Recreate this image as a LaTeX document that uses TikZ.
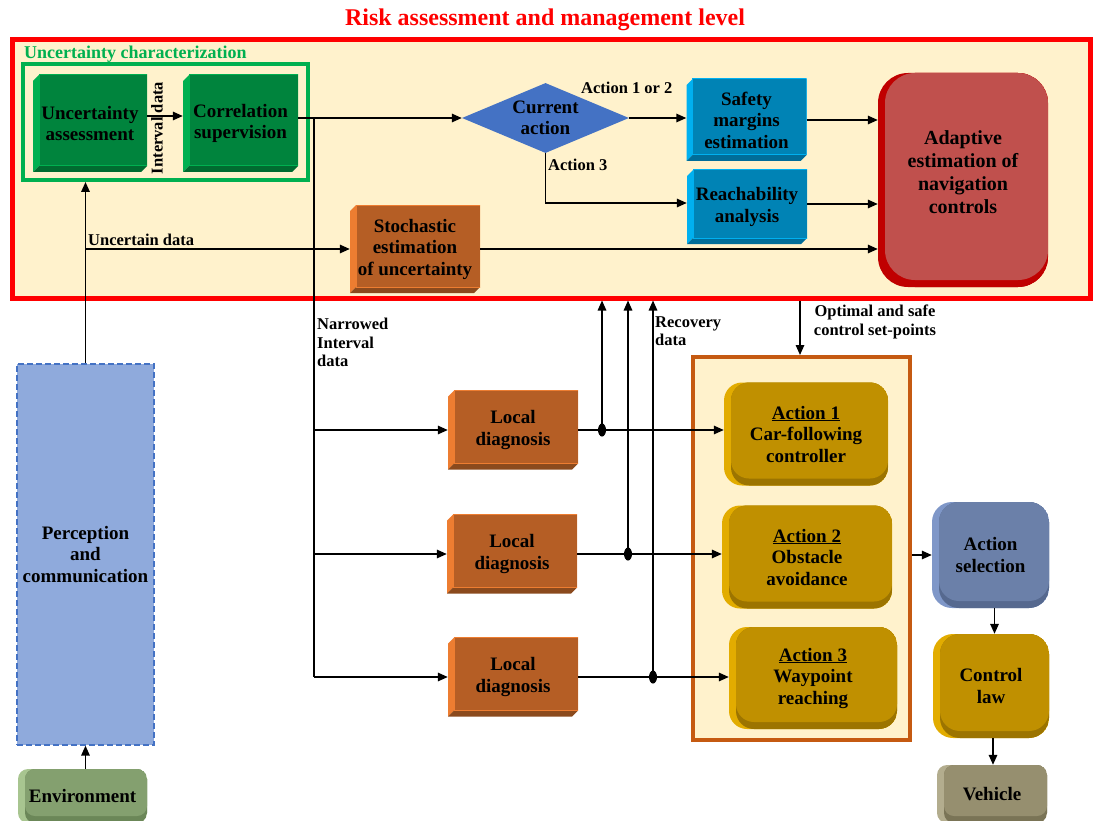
\documentclass[tikz,border=0pt]{standalone}
\usepackage{fontspec}
\setmainfont{Liberation Serif}
\usetikzlibrary{arrows.meta,shapes.geometric,calc}
\definecolor{cream}{HTML}{FFF2CC}
\definecolor{ucgreen}{HTML}{00B050}
\definecolor{gfront}{HTML}{00843D}
\definecolor{glight}{HTML}{00B050}
\definecolor{gdark}{HTML}{006B30}
\definecolor{dblue}{HTML}{4472C4}
\definecolor{bfront}{HTML}{0083B5}
\definecolor{blight}{HTML}{00B0F0}
\definecolor{bdark}{HTML}{006D99}
\definecolor{rfront}{HTML}{C0504D}
\definecolor{rdark}{HTML}{C00000}
\definecolor{ofront}{HTML}{B55E25}
\definecolor{olight}{HTML}{ED7D31}
\definecolor{odark}{HTML}{8B4A1D}
\definecolor{pfill}{HTML}{8FAADC}
\definecolor{pblue}{HTML}{4472C4}
\definecolor{efront}{HTML}{84A06F}
\definecolor{elight}{HTML}{A8C590}
\definecolor{edark}{HTML}{6B8758}
\definecolor{oframe}{HTML}{C55A11}
\definecolor{afront}{HTML}{C09000}
\definecolor{alight}{HTML}{E2AC00}
\definecolor{adark}{HTML}{9C7400}
\definecolor{sfront}{HTML}{6B80A9}
\definecolor{slight}{HTML}{7F97C8}
\definecolor{sdark}{HTML}{56698F}
\definecolor{vfront}{HTML}{968F6F}
\definecolor{vlight}{HTML}{B3AD8E}
\definecolor{vdark}{HTML}{7A7456}
\newcommand\bxf{\fontsize{19}{21.5}\selectfont\bfseries}
\newcommand\lbf{\fontsize{16.5}{18.5}\selectfont\bfseries}
\newcommand\ttlf{\fontsize{24}{28}\selectfont\bfseries}
\newcommand\glf{\fontsize{18}{21}\selectfont\bfseries}
\newcommand\bigf{\fontsize{20}{23}\selectfont\bfseries}
\tikzset{
  bx/.style={font=\bxf, align=center, inner sep=0pt, text=black},
  frm/.style={rectangle, inner sep=0pt},
  lab/.style={font=\lbf, inner sep=0pt, text=black},
  ln/.style={line width=1.6pt},
  arr/.style={line width=1.6pt, -{Triangle[length=10pt,width=8.5pt]}},
  bevelbox/.style n args={3}{bx, rectangle, path picture={
    \coordinate (pnw) at (path picture bounding box.north west);
    \coordinate (pse) at (path picture bounding box.south east);
    \coordinate (psw) at (pnw |- pse);
    \fill[#2] ([yshift=-6pt]pnw) -- ([xshift=6pt]pnw) -- ([shift={(6pt,6pt)}]psw) -- (psw) -- cycle;
    \fill[#3] (psw) -- ([shift={(6pt,6pt)}]psw) -- ([yshift=6pt]pse) -- ([xshift=-6pt]pse) -- cycle;
    \fill[#1] ([xshift=6pt]pnw) rectangle ([yshift=6pt]pse);
    \draw[#2, line width=1pt] ([xshift=6pt]pnw) rectangle ([yshift=6pt]pse);
  }},
  roundbox/.style n args={4}{bx, rectangle, rounded corners=#4, fill=#2, path picture={
    \coordinate (pnw) at (path picture bounding box.north west);
    \coordinate (pse) at (path picture bounding box.south east);
    \fill[#3, rounded corners=#4] ([xshift=7pt]pnw) rectangle (pse);
    \fill[#1, rounded corners=#4] ([xshift=7pt]pnw) rectangle ([yshift=7pt]pse);
  }},
}
\begin{document}
\begin{tikzpicture}[x=1pt,y=-1pt]
\useasboundingbox (0,0) rectangle (1094,821);
% title and frames
\node[font=\ttlf, text=red, inner sep=0pt] (title) at (545,20) {Risk assessment and management level};
\node[frm, draw=red, line width=5pt, fill=cream, minimum width=1078pt, minimum height=258pt] (risk) at (551,169) {};
\node[font=\glf, text=ucgreen, anchor=west, inner sep=0pt] (uclab) at (24,54) {Uncertainty characterization};
\node[frm, draw=ucgreen, line width=4pt, minimum width=285pt, minimum height=116pt] (ucf) at (165.5,122) {};
\node[frm, draw=oframe, line width=4pt, fill=cream, minimum width=217pt, minimum height=383pt] (af) at (801.5,548.5) {};
% top boxes
\node[bevelbox={gfront}{glight}{gdark}, minimum width=114pt, minimum height=97pt] (ua) at (90,123.5) {Uncertainty\\assessment};
\node[bevelbox={gfront}{glight}{gdark}, minimum width=115pt, minimum height=97pt] (cs) at (240.5,123.5) {Correlation\\supervision};
\node[lab, rotate=90] (ivd) at (157,128) {Interval data};
\node[bx, diamond, fill=dblue, aspect=2.39, minimum width=167pt, minimum height=70pt] (ca) at (545.5,118) {Current\\action};
\node[lab, anchor=west] (l12) at (581,88) {Action 1 or 2};
\node[lab, anchor=west] (l3) at (548,165) {Action 3};
\node[bevelbox={bfront}{blight}{bdark}, minimum width=120pt, minimum height=82pt] (sme) at (746.5,120) {Safety\\margins\\estimation};
\node[bevelbox={bfront}{blight}{bdark}, minimum width=120pt, minimum height=74pt] (ra) at (747,207) {Reachability\\analysis};
\node[roundbox={rfront}{rdark}{rdark}{30pt}, font=\bigf, minimum width=170pt, minimum height=214pt, text depth=16pt] (ad) at (963,180) {Adaptive\\estimation of\\navigation\\controls};
\node[bevelbox={ofront}{olight}{odark}, minimum width=130pt, minimum height=88pt] (se) at (415,249) {Stochastic\\estimation\\of uncertainty};
\node[lab, anchor=west] (udl) at (88,240) {Uncertain data};
% left column
\node[bx, draw=pblue, dash pattern=on 6pt off 3pt, line width=1.3pt, fill=pfill, minimum width=137pt, minimum height=381pt] (pc) at (85.5,554.5) {Perception\\and\\communication};
\node[roundbox={efront}{elight}{edark}{10pt}, minimum width=129pt, minimum height=54pt] (env) at (82.5,796) {Environment};
% middle
\node[lab, anchor=north west, align=left] (nid) at (317,318) {Narrowed\\Interval\\data};
\node[bevelbox={ofront}{olight}{odark}, minimum width=130pt, minimum height=79pt] (ld1) at (513,430) {Local\\diagnosis};
\node[bevelbox={ofront}{olight}{odark}, minimum width=130pt, minimum height=79pt] (ld2) at (512,554) {Local\\diagnosis};
\node[bevelbox={ofront}{olight}{odark}, minimum width=130pt, minimum height=79pt] (ld3) at (513,677) {Local\\diagnosis};
\node[lab, anchor=north west, align=left] (rd) at (655,316) {Recovery\\data};
\node[lab, align=center] (osl) at (875,322) {Optimal and safe\\control set-points};
% actions
\node[roundbox={afront}{alight}{adark}{18pt}, minimum width=164pt, minimum height=103pt] (a1) at (806,434) {\underline{Action 1}\\Car-following\\controller};
\node[roundbox={afront}{alight}{adark}{18pt}, minimum width=170pt, minimum height=103pt] (a2) at (807,557) {\underline{Action 2}\\Obstacle\\avoidance};
\node[roundbox={afront}{alight}{adark}{18pt}, minimum width=168pt, minimum height=102pt] (a3) at (813,678) {\underline{Action 3}\\Waypoint\\reaching};
% right column
\node[roundbox={sfront}{slight}{sdark}{20pt}, minimum width=117pt, minimum height=106pt] (as) at (990.5,555) {Action\\selection};
\node[roundbox={afront}{alight}{adark}{20pt}, minimum width=116pt, minimum height=104pt] (cl) at (991,686) {Control\\law};
\node[roundbox={vfront}{vlight}{vdark}{10pt}, minimum width=110pt, minimum height=58pt] (veh) at (992,794) {Vehicle};
% connectors top
\coordinate (j0) at (314,0 |- ca.west);
\draw[arr] ([yshift=7.5pt]ua.east) -- ([yshift=7.5pt]cs.west);
\draw[arr] (cs.east |- ca.west) -- (ca.west);
\draw[arr] (ca.east) -- (ca.east -| sme.west);
\draw[arr] (ca.south) |- ([yshift=4pt]ra.west);
\draw[arr] (sme.east) -- (sme.east -| ad.west);
\draw[arr] ([yshift=3pt]ra.east) -- ([yshift=3pt]ra.east -| ad.west);
\draw[arr] (se.east) -- (se.east -| ad.west);
\draw[arr] (pc.north) -- (pc.north |- ucf.south);
\coordinate (j1) at (pc.north |- se.west);
\draw[arr] (j1) -- (se.west);
\draw[arr] (env.north -| pc.south) -- (pc.south);
% narrowed interval data
\coordinate (nb) at (j0 |- ld3.west);
\draw[ln] (j0) -- (nb);
\draw[arr] (j0 |- ld1.west) -- (ld1.west);
\draw[arr] (j0 |- ld2.west) -- (ld2.west);
\draw[arr] (nb) -- (ld3.west);
% local diagnosis outputs
\coordinate (d1) at (602,0 |- ld1.east);
\coordinate (d2) at (628,0 |- ld2.east);
\coordinate (d3) at (653,0 |- ld3.east);
\draw[arr] (ld1.east) -- (ld1.east -| a1.west);
\draw[arr] (ld2.east) -- (ld2.east -| a2.west);
\draw[arr] (ld3.east) -- (ld3.east -| a3.west);
\draw[arr] (d1) -- (d1 |- risk.south);
\draw[arr] (d2) -- (d2 |- risk.south);
\draw[arr] (d3) -- (d3 |- risk.south);
\fill (d1) ellipse [x radius=4pt, y radius=6.5pt];
\fill (d2) ellipse [x radius=4pt, y radius=6.5pt];
\fill (d3) ellipse [x radius=4pt, y radius=6.5pt];
% set-points and right column
\coordinate (os) at (800,0 |- risk.south);
\draw[arr] (os) -- (os |- af.north);
\draw[arr] (as.west -| af.east) -- (as.west);
\draw[arr] ([xshift=4pt]as.south) -- ([xshift=4pt]as.south |- cl.north);
\draw[arr] ([xshift=2pt]cl.south) -- ([xshift=2pt]cl.south |- veh.north);
\end{tikzpicture}
\end{document}
